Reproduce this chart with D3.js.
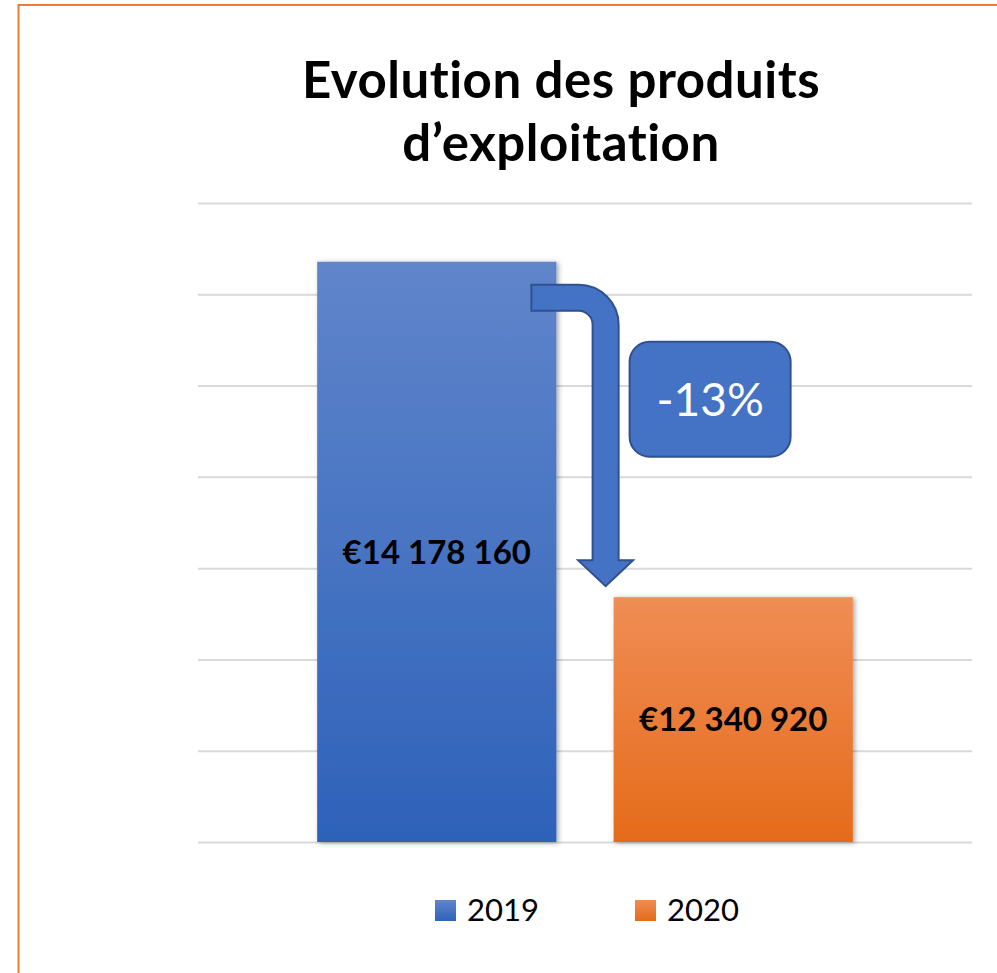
<!DOCTYPE html>
<html>
<head>
<meta charset="utf-8">
<script src="https://cdn.jsdelivr.net/npm/d3@7/dist/d3.min.js"></script>
<style>
  html, body { margin: 0; padding: 0; background: #fff; overflow: hidden; }
  svg { display: block; }
  text { font-family: Lato, "Open Sans", sans-serif; font-variant-ligatures: none; }
</style>
</head>
<body>
<div id="chart"></div>
<script>
const categories = ["2019", "2020"];
const values = [14178160, 12340920];
const yDomain = [11000000, 14500000];
const yTicks = [11000000, 11500000, 12000000, 12500000, 13000000, 13500000, 14000000, 14500000];
const titleLines = ["Evolution des produits", "d’exploitation"];
const changeLabel = "-13%";

const colors = {
  "2019": ["#6085cb", "#2e62b9"],
  "2020": ["#f08d55", "#e56b1a"],
};

const width = 997;
const height = 973;
const plot = { left: 198, right: 972, top: 203, bottom: 842 };

const euro = d3.formatLocale({
  decimal: ",",
  thousands: " ",
  grouping: [3],
  currency: ["€", ""],
}).format("$,");

const svg = d3.select("#chart").append("svg")
  .attr("width", width)
  .attr("height", height);

const defs = svg.append("defs");

categories.forEach((cat) => {
  const grad = defs.append("linearGradient")
    .attr("id", `grad-${cat}`)
    .attr("x1", 0).attr("y1", 0).attr("x2", 0).attr("y2", 1);
  grad.append("stop").attr("offset", "0%").attr("stop-color", colors[cat][0]);
  grad.append("stop").attr("offset", "100%").attr("stop-color", colors[cat][1]);
});

defs.append("filter")
  .attr("id", "shadow")
  .attr("x", "-10%").attr("y", "-10%").attr("width", "130%").attr("height", "130%")
  .append("feDropShadow")
  .attr("dx", 2).attr("dy", 1)
  .attr("stdDeviation", 2.5)
  .attr("flood-color", "#000")
  .attr("flood-opacity", 0.35);

// outer frame (only left and top edges are inside the picture)
svg.append("rect")
  .attr("x", 18.5).attr("y", 5)
  .attr("width", 1100).attr("height", 1100)
  .attr("fill", "none")
  .attr("stroke", "#ed7d31")
  .attr("stroke-width", 2);

// title
svg.append("text")
  .attr("x", 561)
  .attr("text-anchor", "middle")
  .attr("font-weight", 700)
  .attr("font-size", 51)
  .attr("letter-spacing", 0.5)
  .attr("fill", "#000")
  .selectAll("tspan")
  .data(titleLines)
  .join("tspan")
  .attr("x", 561)
  .attr("y", (d, i) => 98 + i * 63)
  .text((d) => d);

const x = d3.scaleBand()
  .domain(categories)
  .range([plot.left, plot.right])
  .paddingInner(0.193)
  .paddingOuter(0.402);

const y = d3.scaleLinear()
  .domain(yDomain)
  .range([plot.bottom, plot.top]);

// gridlines
svg.append("g")
  .attr("class", "grid")
  .attr("transform", `translate(${plot.left},0)`)
  .call(
    d3.axisLeft(y)
      .tickValues(yTicks)
      .tickSize(-(plot.right - plot.left))
      .tickFormat("")
  )
  .call((g) => g.select(".domain").remove())
  .call((g) => g.selectAll("line").attr("stroke", "#d9d9d9").attr("stroke-width", 2));

const rows = categories.map((cat, i) => ({ cat, value: values[i] }));

// bars
svg.append("g")
  .selectAll("rect")
  .data(rows)
  .join("rect")
  .attr("x", (d) => x(d.cat))
  .attr("y", (d) => y(d.value))
  .attr("width", x.bandwidth())
  .attr("height", (d) => y(yDomain[0]) - y(d.value))
  .attr("fill", (d) => `url(#grad-${d.cat})`)
  .attr("filter", "url(#shadow)");

// value labels, centred in each bar
const labelSize = 33;
svg.append("g")
  .selectAll("text")
  .data(rows)
  .join("text")
  .attr("x", (d) => x(d.cat) + x.bandwidth() / 2)
  .attr("y", (d) => (y(d.value) + y(yDomain[0])) / 2 + labelSize * 0.36)
  .attr("text-anchor", "middle")
  .attr("font-weight", 700)
  .attr("font-size", labelSize)
  .attr("fill", "#000")
  .text((d) => euro(d.value));

// bent arrow from the 2019 bar down to the 2020 bar
const shaft = 26;
const rOuter = 40;
const rInner = rOuter - shaft;
const ax0 = x(categories[0]) + x.bandwidth() - 25;
const ay0 = y(values[0]) + 23;
const sx = x(categories[1]) + 5; // right edge of the vertical shaft
const tipY = y(values[1]) - 11;
const headH = 26;
const headHalf = 27.5;
const cx = sx - shaft / 2;

const arrow = d3.path();
arrow.moveTo(ax0, ay0);
arrow.lineTo(sx - rOuter, ay0);
arrow.arcTo(sx, ay0, sx, ay0 + rOuter, rOuter);
arrow.lineTo(sx, tipY - headH);
arrow.lineTo(cx + headHalf, tipY - headH);
arrow.lineTo(cx, tipY);
arrow.lineTo(cx - headHalf, tipY - headH);
arrow.lineTo(sx - shaft, tipY - headH);
arrow.lineTo(sx - shaft, ay0 + shaft + rInner);
arrow.arcTo(sx - shaft, ay0 + shaft, sx - shaft - rInner, ay0 + shaft, rInner);
arrow.lineTo(ax0, ay0 + shaft);
arrow.closePath();

svg.append("path")
  .attr("d", arrow.toString())
  .attr("fill", "#4472c4")
  .attr("stroke", "#2f528f")
  .attr("stroke-width", 2)
  .attr("stroke-linejoin", "miter");

// change callout
const box = { x: sx + 11, y: ay0 + 57, w: 161, h: 115 };
svg.append("rect")
  .attr("x", box.x)
  .attr("y", box.y)
  .attr("width", box.w)
  .attr("height", box.h)
  .attr("rx", 20)
  .attr("fill", "#4472c4")
  .attr("stroke", "#2f528f")
  .attr("stroke-width", 2);

svg.append("text")
  .attr("x", box.x + box.w / 2)
  .attr("y", box.y + box.h / 2 + 17)
  .attr("text-anchor", "middle")
  .attr("font-size", 46)
  .attr("font-weight", 400)
  .attr("fill", "#fff")
  .text(changeLabel);

// legend
const legend = svg.append("g")
  .selectAll("g")
  .data(categories)
  .join("g")
  .attr("transform", (d, i) => `translate(${435 + i * 200},900)`);

legend.append("rect")
  .attr("width", 21)
  .attr("height", 21)
  .attr("fill", (d) => `url(#grad-${d})`);

legend.append("text")
  .attr("x", 32)
  .attr("y", 21)
  .attr("font-size", 31)
  .attr("fill", "#000")
  .text((d) => d);
</script>
</body>
</html>
